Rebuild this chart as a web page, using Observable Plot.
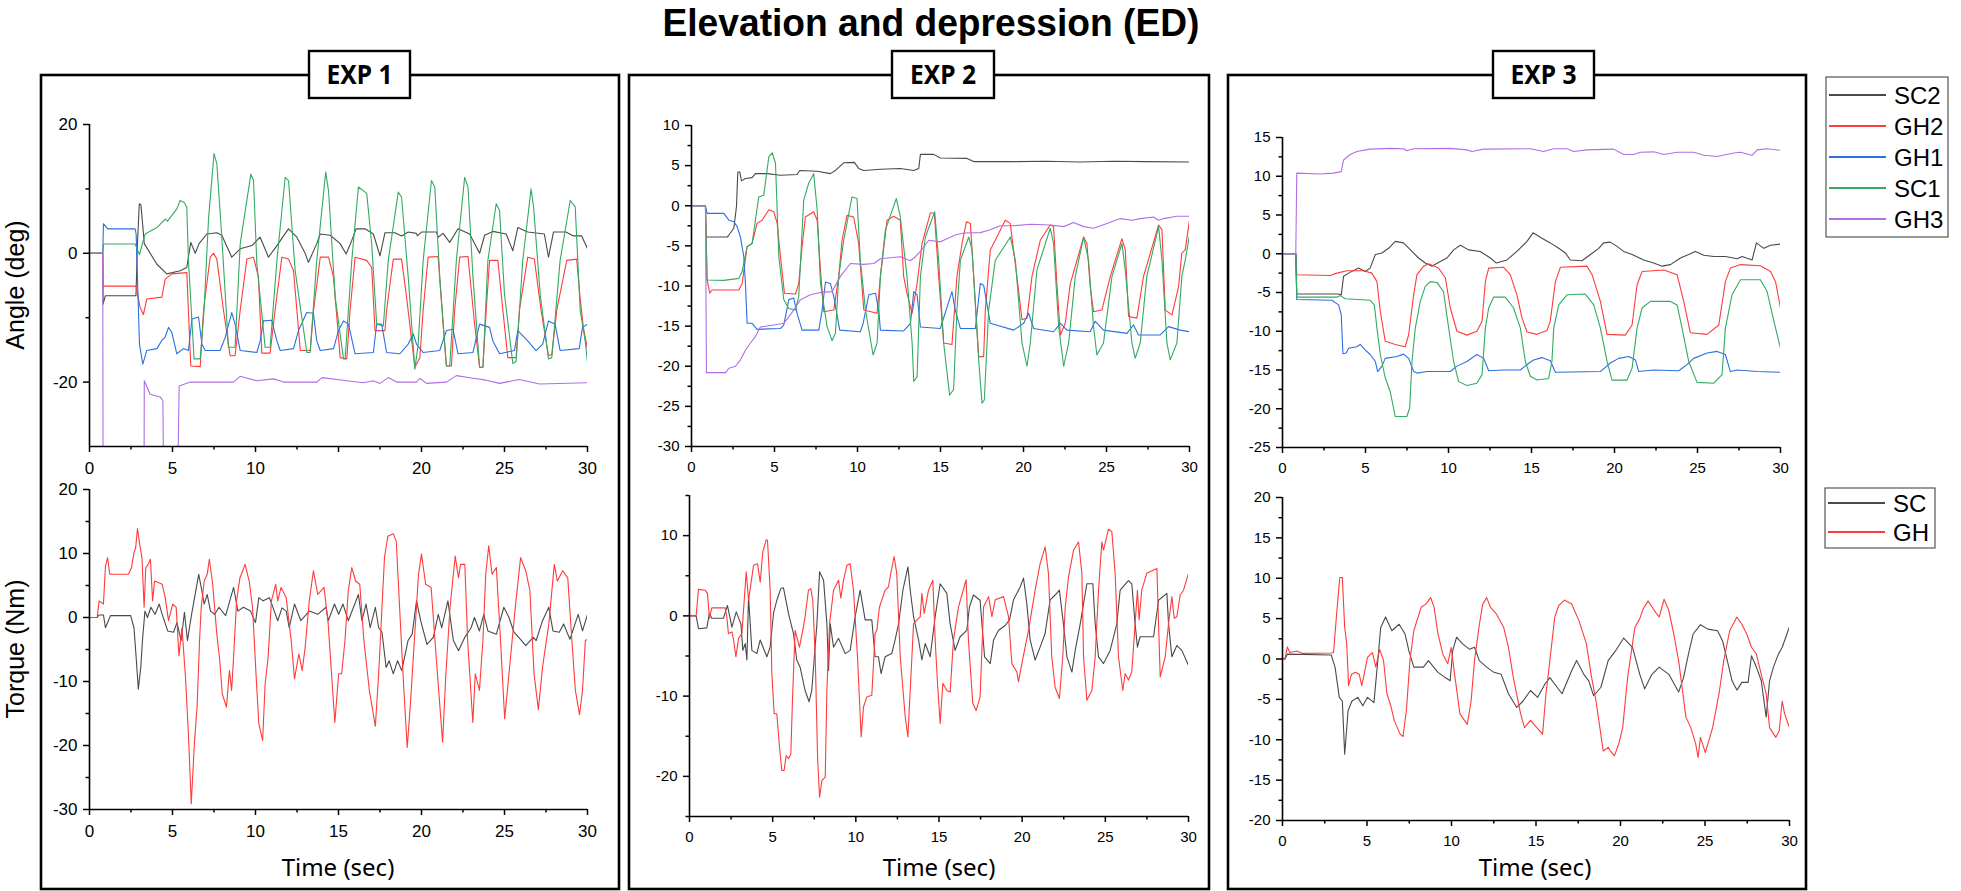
<!DOCTYPE html>
<html>
<head>
<meta charset="utf-8">
<script src="https://cdn.jsdelivr.net/npm/d3@7"></script>
<script src="https://cdn.jsdelivr.net/npm/@observablehq/plot@0.6"></script>
<style>
  body { margin: 0; background: #fff; }
  #page { position: relative; width: 1961px; height: 891px; overflow: hidden; background: #fff; }
  #page svg { position: absolute; }
</style>
</head>
<body>
<div id="page"></div>
<script>
// ---- series names / colours ----
const angleNames = ["SC2", "GH2", "GH1", "SC1", "GH3"];
const angleColors = ["#4a4a4a", "#ff3b3b", "#2c6fe0", "#34aa62", "#b06ee6"];
const torqueNames = ["SC", "GH"];
const torqueColors = ["#4a4a4a", "#ff3b3b"];
const expTitles = ["EXP 1", "EXP 2", "EXP 3"];

// ---- EXP 1 angles [time (s), angle (deg)] ----
const exp1_SC2 = [[0,0],[0.8,0],[0.82,-7.9],[0.95,-6.6],[2.8,-6.6],[2.88,1],[3.0,7.7],[3.1,7.5],[3.3,1.5],[4.06,-1.7],[4.66,-3.2],[5.46,-2.7],[5.86,-2.2],[6.1,1.7],[6.37,0],[6.6,1.5],[7.07,3.0],[7.67,3.2],[7.97,2.8],[8.57,-0.6],[9.08,0.7],[9.78,1.2],[10.28,2.5],[10.78,-0.6],[11.29,1.2],[11.69,2.7],[11.99,3.8],[12.49,2.5],[12.99,0],[13.19,-1.4],[13.69,1.5],[13.9,3.0],[14.5,2.8],[15.1,1.5],[15.46,-0.1],[15.8,2.0],[16.06,3.8],[16.6,3.8],[17.1,3.0],[17.5,-0.4],[17.8,3.2],[18.4,3.2],[18.8,2.7],[19.2,3.3],[19.7,3.1],[19.75,2.7],[20.0,3.3],[20.9,3.3],[21.0,2.5],[21.3,3.1],[21.7,1.7],[22.2,3.8],[22.9,3.0],[23.5,0.0],[23.8,2.8],[24.3,3.4],[25.1,3.0],[25.5,0.4],[25.8,4.0],[26.4,3.3],[27.4,3.0],[27.65,-0.6],[27.95,3.3],[28.7,3.3],[29.15,2.7],[29.65,2.7],[30,0.7]];
const exp1_GH2 = [[0,0],[0.8,0],[0.82,-5.1],[2.8,-5.1],[3.05,-8.4],[3.25,-9.5],[3.45,-7.1],[4.36,-6.8],[4.56,-4.0],[4.96,-3.2],[5.86,-3.0],[6.1,-17.5],[6.67,-17.6],[6.87,-8.8],[7.27,-0.6],[7.47,0],[7.67,-0.9],[8.07,-8.8],[8.47,-15.9],[8.77,-15.9],[9.08,-8.8],[9.48,-0.9],[9.88,-0.6],[10.18,-3.7],[10.38,-15.5],[10.88,-15.5],[11.18,-8.8],[11.59,-0.6],[11.99,-0.9],[12.29,-2.7],[12.7,-15.1],[13.3,-15.1],[13.5,-8.8],[13.9,-0.6],[14.4,-0.6],[14.7,-3.7],[15.1,-16.2],[15.5,-16.4],[15.7,-8.8],[16.0,-0.6],[16.7,-1.1],[17.0,-2.2],[17.2,-12.0],[17.8,-12.0],[17.9,-8.8],[18.3,-0.9],[18.8,-0.9],[19.1,-6.8],[19.6,-17.7],[19.9,-16.2],[20.1,-8.8],[20.4,-0.6],[21.0,-0.5],[21.3,-11.0],[21.5,-17.5],[21.8,-17.5],[22.0,-8.8],[22.3,-0.6],[22.8,-0.5],[23.2,-11.0],[23.5,-17.7],[23.7,-17.7],[23.9,-8.8],[24.1,-1.1],[24.6,-1.1],[24.9,-8.8],[25.2,-16.2],[25.7,-16.2],[25.9,-8.8],[26.4,-0.6],[26.8,-0.9],[27.2,-8.8],[27.65,-15.9],[27.85,-15.7],[28.15,-8.8],[28.75,-1.1],[29.35,-0.9],[29.55,-6.8],[29.75,-11.5],[30,-14.9]];
const exp1_GH1 = [[0,0],[0.8,0],[0.84,4.6],[1.1,3.8],[2.75,3.8],[2.81,3.0],[3.01,-14.1],[3.21,-17.2],[3.45,-15.1],[4.06,-14.8],[4.36,-13.5],[4.56,-13.0],[4.76,-11.5],[4.96,-12.3],[5.26,-15.6],[5.66,-14.8],[5.96,-15.1],[6.17,-10.2],[6.57,-9.9],[6.77,-14.1],[6.97,-15.1],[7.87,-15.1],[8.17,-13.1],[8.57,-9.2],[8.77,-11.0],[9.08,-15.1],[10.08,-15.4],[10.28,-13.6],[10.48,-10.5],[10.98,-10.4],[11.29,-13.6],[11.49,-15.1],[12.29,-14.8],[12.59,-12.0],[13.09,-9.2],[13.49,-9.3],[13.69,-13.6],[13.9,-15.1],[14.7,-14.8],[15.0,-12.0],[15.3,-10.5],[15.6,-11.0],[16.0,-15.6],[17.1,-15.4],[17.3,-11.0],[17.6,-11.0],[17.9,-15.4],[18.7,-15.6],[19.2,-14.1],[19.5,-12.5],[19.7,-14.1],[20.1,-15.4],[21.1,-15.1],[21.5,-12.0],[21.9,-11.8],[22.2,-15.6],[23.1,-15.4],[23.5,-11.0],[24.1,-11.5],[24.3,-13.6],[24.7,-15.6],[25.6,-15.1],[25.8,-12.0],[26.4,-13.6],[26.9,-15.1],[27.3,-14.1],[27.65,-10.5],[28.05,-11.0],[28.35,-15.1],[29.5,-14.8],[29.7,-11.5],[30,-11.0]];
const exp1_SC1 = [[0,0],[0.8,0],[0.84,1.45],[2.75,1.45],[3.01,-0.2],[3.35,3.0],[4.06,4.0],[4.56,5.3],[4.7,5.0],[5.26,6.9],[5.46,8.2],[5.7,7.9],[5.86,7.2],[5.96,-1.1],[6.3,-16.4],[6.67,-16.4],[6.9,-8.8],[7.17,5.3],[7.5,15.5],[7.67,13.9],[7.97,2.5],[8.37,-14.6],[8.77,-14.6],[9.08,1.5],[9.72,12.3],[9.88,11.3],[10.08,-1.6],[10.58,-14.6],[10.88,-14.6],[11.29,-1.1],[11.79,11.8],[11.99,11.3],[12.39,-2.7],[13.09,-15.4],[13.29,-15.4],[13.69,-1.1],[14.23,12.6],[14.4,9.7],[14.8,-6.8],[15.3,-16.4],[15.4,-16.4],[15.8,-1.1],[16.2,10.3],[16.7,9.3],[17.0,1.45],[17.3,-11.0],[17.7,-11.3],[18.0,-1.1],[18.6,9.5],[18.8,8.7],[19.2,-3.7],[19.6,-18.0],[19.8,-14.1],[20.1,-1.1],[20.6,11.3],[20.8,10.3],[21.1,-3.7],[21.5,-17.5],[21.7,-17.5],[22.1,-1.1],[22.6,11.8],[22.8,10.3],[23.1,-3.7],[23.5,-17.7],[23.7,-17.7],[24.0,-1.1],[24.5,7.7],[24.7,6.7],[25.0,-6.4],[25.5,-17.1],[25.7,-16.8],[26.1,-1.1],[26.6,10.0],[26.75,7.2],[27.15,-6.4],[27.65,-16.4],[27.85,-16.2],[28.35,-1.1],[28.96,8.2],[29.26,7.2],[29.56,-8.9],[29.86,-13.6],[30,-17.0]];
const exp1_GH3 = [[0,0],[0.8,0],[0.82,-45],[3.28,-45],[3.3,-19.8],[3.65,-21.9],[4.26,-22.3],[4.42,-22.9],[4.5,-45],[5.26,-45],[5.4,-20.6],[6.07,-20.0],[8.67,-20.0],[9.08,-19.1],[10.08,-19.8],[11.08,-19.5],[11.69,-20.0],[13.69,-20.0],[14.0,-19.3],[15.5,-19.8],[16.5,-20.1],[17.1,-19.8],[17.5,-20.2],[18.0,-19.3],[18.5,-20.0],[19.7,-20.0],[19.9,-19.4],[20.3,-20.2],[21.5,-20.0],[22.1,-19.0],[23.1,-19.4],[23.9,-19.7],[24.7,-20.2],[25.9,-19.6],[27.1,-20.3],[30,-20.1]];

// ---- EXP 2 angles ----
const exp2_SC2 = [[0,0],[0.84,0],[0.88,-3.9],[2.15,-3.9],[2.25,-3.65],[2.55,-2.8],[2.71,-0.1],[2.79,4.2],[2.91,4.2],[3.01,3.1],[3.25,3.4],[3.65,3.5],[3.85,4.0],[4.56,4.0],[5.36,3.8],[6.36,3.9],[6.52,4.4],[7.57,4.3],[8.37,4.0],[8.67,4.4],[9.17,5.35],[9.81,5.4],[10.07,4.65],[10.38,4.4],[11.38,4.55],[12.58,4.65],[13.39,4.4],[13.69,4.65],[13.79,6.4],[14.59,6.4],[14.99,5.95],[16.6,5.9],[17.0,5.5],[19.4,5.5],[21.4,5.55],[23.4,5.45],[25.4,5.55],[27.4,5.5],[30,5.45]];
const exp2_GH2 = [[0,0],[0.84,0],[0.94,-9.25],[1.1,-10.9],[1.24,-10.5],[2.85,-10.5],[3.05,-9.7],[3.35,-5.1],[3.65,-4.7],[3.95,-2.2],[4.25,-1.8],[4.66,-0.5],[4.96,-0.75],[5.16,-2.2],[5.36,-6.35],[5.6,-10.9],[6.26,-11.0],[6.46,-9.7],[6.66,-5.1],[6.86,-1.4],[7.36,-0.75],[7.57,-1.8],[7.77,-8.0],[7.97,-13.2],[8.57,-13.0],[8.87,-8.8],[9.07,-4.3],[9.37,-1.2],[9.77,-1.4],[10.07,-4.7],[10.38,-13.0],[11.18,-13.4],[11.38,-8.8],[11.78,-1.8],[12.18,-1.3],[12.58,-1.8],[12.78,-8.8],[12.98,-10.9],[13.29,-13.4],[13.59,-9.7],[13.89,-4.7],[14.39,-0.9],[14.63,-0.9],[14.89,-8.8],[15.19,-17.1],[15.69,-17.3],[15.99,-8.8],[16.3,-4.7],[16.56,-2.0],[16.8,-2.2],[17.0,-8.8],[17.3,-18.8],[17.6,-18.8],[17.7,-13.0],[18.0,-5.5],[18.9,-1.8],[19.2,-2.2],[19.6,-8.8],[19.91,-14.2],[20.21,-14.0],[20.51,-8.8],[21.01,-4.3],[21.61,-2.4],[21.81,-2.6],[22.01,-9.7],[22.22,-16.1],[22.52,-14.6],[22.82,-9.7],[23.62,-3.9],[23.82,-4.7],[24.02,-10.1],[24.22,-13.2],[24.72,-13.0],[25.23,-8.8],[25.93,-4.1],[26.13,-5.5],[26.33,-13.8],[26.83,-14.0],[27.23,-8.8],[28.14,-2.4],[28.34,-3.0],[28.54,-13.0],[28.94,-13.6],[29.34,-10.1],[29.54,-5.9],[29.74,-5.5],[30,-1.8]];
const exp2_GH1 = [[0,0],[0.84,0],[0.94,-0.95],[1.95,-0.95],[2.25,-1.8],[2.55,-2.0],[2.75,-2.6],[2.95,-3.9],[3.15,-6.35],[3.25,-9.7],[3.35,-14.65],[3.65,-14.65],[3.95,-15.4],[5.36,-15.3],[5.56,-14.85],[5.86,-11.7],[6.16,-11.5],[6.36,-13.4],[6.66,-15.5],[7.67,-15.5],[7.87,-13.0],[8.07,-9.5],[8.37,-9.7],[8.57,-11.3],[8.93,-15.5],[10.17,-15.7],[10.34,-14.65],[10.68,-11.1],[11.08,-10.9],[11.28,-13.0],[11.38,-15.5],[12.78,-15.6],[13.19,-14.65],[13.39,-10.7],[13.59,-11.1],[13.79,-15.1],[14.99,-15.3],[15.69,-10.7],[15.89,-13.0],[16.2,-15.3],[17.1,-15.3],[17.4,-9.7],[17.6,-9.9],[18.0,-14.65],[19.41,-15.5],[20.01,-14.65],[20.31,-13.4],[20.61,-15.3],[21.81,-15.7],[22.22,-14.65],[22.62,-15.5],[24.02,-15.7],[24.32,-14.4],[24.82,-15.5],[26.23,-15.9],[26.63,-14.85],[26.93,-16.1],[28.24,-16.1],[28.74,-15.06],[29.44,-15.5],[30,-15.7]];
const exp2_SC1 = [[0,0],[0.84,0],[0.94,-9.25],[1.95,-9.3],[2.85,-9.05],[3.05,-8.2],[3.35,-5.1],[3.65,-4.7],[4.05,1.1],[4.35,1.3],[4.66,6.1],[4.86,6.6],[5.06,5.3],[5.26,-6.35],[5.56,-11.7],[5.86,-12.8],[6.26,-13.0],[6.46,-11.3],[6.76,0.7],[7.06,2.8],[7.36,4.0],[7.57,-0.5],[7.77,-9.7],[8.17,-15.1],[8.47,-16.8],[8.67,-15.9],[8.87,-8.8],[9.17,-4.3],[9.67,1.1],[9.97,0.9],[10.17,-6.8],[10.48,-13.0],[10.94,-18.6],[11.18,-17.1],[11.38,-8.8],[11.68,-3.0],[12.34,0.9],[12.58,-1.4],[12.98,-8.8],[13.29,-17.1],[13.39,-21.9],[13.59,-21.3],[13.79,-8.8],[14.09,-3.9],[14.65,-0.75],[14.89,-6.8],[15.19,-17.1],[15.55,-23.6],[15.79,-22.9],[15.99,-13.0],[16.2,-6.8],[16.7,-3.9],[16.9,-5.5],[17.3,-19.2],[17.5,-24.6],[17.64,-24.2],[17.9,-13.0],[18.3,-6.8],[19.21,-3.9],[19.51,-6.8],[19.91,-17.1],[20.21,-20.0],[20.41,-17.1],[20.81,-8.0],[21.61,-2.8],[21.81,-4.7],[22.12,-15.1],[22.42,-20.0],[22.72,-17.1],[23.12,-8.8],[23.62,-3.9],[23.92,-6.8],[24.22,-15.1],[24.42,-18.6],[24.82,-17.1],[25.33,-8.8],[25.93,-4.7],[26.13,-8.0],[26.53,-17.1],[26.73,-19.0],[27.03,-17.1],[27.43,-8.8],[28.14,-2.6],[28.34,-6.8],[28.64,-17.1],[28.84,-19.2],[29.24,-17.1],[29.54,-8.8],[29.74,-6.8],[30,-3.7]];
const exp2_GH3 = [[0,0],[0.84,0],[0.9,-20.8],[2.05,-20.8],[2.25,-20.25],[2.65,-20.0],[2.95,-19.2],[3.25,-18.0],[3.55,-17.1],[3.85,-16.3],[4.15,-15.1],[4.96,-14.85],[5.56,-14.65],[6.16,-13.0],[6.56,-11.7],[7.16,-11.1],[7.77,-10.8],[8.47,-10.7],[8.97,-8.8],[9.57,-7.2],[10.38,-7.3],[10.98,-7.2],[11.38,-6.6],[12.58,-6.35],[13.19,-6.85],[13.49,-6.35],[13.79,-5.7],[14.29,-4.3],[14.99,-4.5],[15.39,-4.1],[15.89,-3.65],[16.4,-3.4],[17.4,-3.35],[18.0,-3.0],[18.6,-2.5],[19.41,-2.5],[20.41,-2.3],[21.61,-2.4],[22.42,-2.6],[23.02,-2.1],[23.62,-2.6],[24.22,-2.8],[25.03,-2.2],[25.83,-1.6],[26.53,-1.8],[27.03,-1.6],[27.83,-1.4],[28.14,-1.8],[28.44,-1.6],[29.24,-1.3],[30,-1.3]];

// ---- EXP 3 angles ----
const exp3_SC2 = [[0,0],[0.8,0],[0.86,-5.2],[3.38,-5.2],[3.54,-5.3],[3.68,-2.9],[3.98,-2.5],[4.58,-1.85],[4.98,-2.3],[5.28,-1.85],[5.59,-0.1],[5.99,0.1],[6.39,0.7],[6.79,1.6],[7.29,1.4],[7.8,0.3],[8.2,-0.55],[8.6,-1.2],[9.0,-1.6],[9.5,-1.0],[9.91,-0.55],[10.31,0.5],[10.71,1.1],[11.21,0.5],[11.91,0.3],[12.52,-0.55],[12.88,-1.2],[13.52,-0.8],[14.12,0.3],[14.73,1.6],[15.09,2.7],[15.63,2.0],[16.13,1.4],[16.64,0.7],[17.04,0.1],[17.34,-0.8],[18.04,-0.9],[18.55,-0.1],[19.05,0.7],[19.35,1.4],[19.75,1.5],[20.15,0.95],[20.55,0.3],[21.06,-0.1],[21.76,-0.8],[22.36,-1.2],[22.87,-1.6],[23.37,-1.4],[23.97,-0.55],[24.47,-0.1],[24.87,0.3],[25.38,-0.2],[25.98,-0.35],[26.68,-0.35],[27.39,-0.65],[27.69,-0.35],[28.29,-0.8],[28.55,1.4],[28.99,0.7],[29.4,1.1],[30,1.25]];
const exp3_GH2 = [[0,0],[0.8,0],[0.86,-2.7],[2.87,-2.8],[3.28,-2.5],[3.88,-2.2],[4.88,-2.2],[5.38,-2.5],[5.69,-3.6],[5.89,-7.4],[6.19,-11.3],[6.79,-11.7],[7.39,-12.0],[7.6,-10.45],[7.9,-5.3],[8.1,-2.7],[8.5,-1.6],[8.8,-1.3],[9.4,-1.85],[9.81,-3.1],[10.11,-7.0],[10.51,-10.0],[11.11,-10.5],[11.71,-10.0],[12.02,-8.7],[12.22,-3.6],[12.42,-1.85],[13.32,-1.75],[13.72,-2.7],[14.12,-5.3],[14.43,-8.3],[14.73,-10.1],[15.33,-10.4],[15.93,-9.9],[16.13,-8.7],[16.44,-3.6],[16.74,-1.75],[18.34,-1.6],[18.65,-2.7],[19.15,-6.15],[19.55,-10.4],[20.65,-10.5],[21.06,-9.2],[21.36,-4.0],[21.66,-2.3],[22.97,-2.1],[23.77,-2.7],[24.17,-6.15],[24.57,-10.2],[25.58,-10.4],[26.28,-9.2],[26.68,-3.6],[26.98,-1.85],[27.59,-1.4],[28.79,-1.55],[29.4,-2.3],[29.7,-3.6],[30,-7.0]];
const exp3_GH1 = [[0,0],[0.8,0],[0.86,-5.9],[2.97,-6.0],[3.38,-6.6],[3.54,-7.9],[3.64,-12.9],[3.84,-12.8],[3.98,-12.2],[4.48,-12.0],[4.68,-11.7],[4.98,-12.4],[5.28,-13.0],[5.59,-13.9],[5.73,-15.2],[5.99,-14.5],[6.19,-13.5],[6.89,-13.25],[7.29,-12.95],[7.6,-13.5],[7.9,-15.2],[8.1,-15.4],[8.7,-15.2],[10.11,-15.2],[10.51,-14.5],[11.11,-13.9],[11.71,-13.0],[12.12,-13.5],[12.42,-15.1],[13.32,-15.0],[14.33,-15.0],[14.73,-14.3],[15.13,-13.7],[15.63,-13.4],[16.13,-13.8],[16.44,-15.3],[19.15,-15.2],[19.75,-14.1],[20.25,-13.5],[20.86,-13.25],[21.26,-13.7],[21.46,-15.2],[22.36,-15.0],[23.87,-15.1],[24.37,-14.3],[24.77,-13.5],[25.58,-12.8],[26.18,-12.6],[26.68,-13.0],[26.98,-15.2],[27.39,-15.0],[28.59,-15.2],[30,-15.3]];
const exp3_SC1 = [[0,0],[0.8,0],[0.86,-5.6],[3.28,-5.6],[3.48,-5.4],[3.78,-5.8],[5.28,-6.0],[5.53,-6.6],[5.69,-9.6],[5.89,-13.0],[6.19,-16.0],[6.49,-17.8],[6.79,-21.0],[7.49,-21.0],[7.66,-19.9],[7.8,-13.9],[8.0,-9.6],[8.3,-6.15],[8.6,-4.2],[8.9,-3.6],[9.3,-3.7],[9.7,-4.9],[10.01,-9.6],[10.31,-13.9],[10.61,-16.5],[11.11,-17.0],[11.71,-16.7],[12.02,-15.6],[12.22,-9.6],[12.42,-7.0],[12.72,-5.6],[13.42,-5.6],[13.92,-7.0],[14.33,-9.6],[14.63,-13.9],[14.93,-15.8],[15.33,-16.3],[16.03,-16.1],[16.23,-13.9],[16.34,-9.6],[16.64,-6.6],[17.14,-5.3],[18.24,-5.2],[18.75,-6.6],[19.15,-9.6],[19.55,-13.9],[19.85,-16.3],[20.76,-16.3],[21.06,-14.75],[21.36,-9.6],[21.66,-7.0],[22.16,-6.15],[23.37,-6.15],[23.77,-6.6],[24.07,-9.6],[24.47,-13.9],[24.97,-16.6],[25.98,-16.7],[26.48,-15.6],[26.68,-9.6],[27.08,-5.3],[27.59,-3.35],[28.79,-3.35],[29.19,-4.86],[29.6,-8.7],[30,-12.2]];
const exp3_GH3 = [[0,0],[0.8,0],[0.86,10.4],[2.27,10.3],[3.07,10.4],[3.54,10.6],[3.68,12.1],[4.08,12.8],[4.48,13.2],[5.28,13.5],[6.49,13.6],[7.29,13.55],[7.49,13.3],[7.9,13.55],[10.11,13.6],[11.11,13.4],[11.41,13.2],[12.12,13.5],[14.93,13.55],[15.73,13.2],[16.34,13.55],[17.14,13.55],[17.54,13.2],[18.34,13.4],[19.95,13.5],[20.55,12.8],[21.16,12.8],[21.56,13.1],[22.36,13.15],[22.97,12.8],[23.77,13.1],[24.77,13.1],[25.38,12.7],[26.18,12.55],[27.19,13.0],[27.59,13.1],[28.29,12.7],[28.59,13.4],[29.19,13.55],[30,13.35]];

// ---- torques [time (s), torque (Nm)] ----
const exp1_tqSC = [[0,0],[0.46,0],[0.58,0.4],[0.84,0.4],[0.96,-1.6],[1.27,0.3],[2.48,0.3],[2.68,-1.6],[2.81,-6.2],[2.94,-11.2],[3.09,-7.8],[3.19,-3.6],[3.34,1.0],[3.49,0],[3.7,1.6],[3.95,0.5],[4.2,2.1],[4.38,0.5],[4.71,-2.1],[5.06,-2.3],[5.27,-0.8],[5.52,-3.6],[5.72,0.8],[5.9,-3.6],[6.15,0.5],[6.33,3.1],[6.58,6.75],[6.73,4.7],[6.91,2.1],[7.09,3.6],[7.29,1.0],[7.54,0.5],[7.8,1.6],[8.2,0.3],[8.68,4.7],[8.94,1.0],[9.27,1.6],[9.7,1.0],[10.0,-0.8],[10.2,3.1],[10.46,2.6],[10.84,3.1],[11.34,-0.5],[11.6,1.5],[11.85,1.0],[12.03,-1.6],[12.35,2.1],[12.73,-0.5],[13.24,1.0],[13.75,0.5],[14.25,1.6],[14.38,-0.5],[14.76,2.1],[15.01,0.5],[15.27,2.1],[15.59,-0.5],[16.2,3.6],[16.41,-0.5],[16.66,2.1],[16.91,-1.6],[17.22,1.6],[17.42,-1.6],[17.62,-2.3],[17.87,-7.8],[18.05,-6.75],[18.3,-8.8],[18.56,-6.75],[18.81,-8.3],[19.19,-3.6],[19.44,-2.6],[19.7,2.6],[19.95,-0.5],[20.33,-4.2],[20.71,-3.1],[21.01,0.5],[21.22,-1.6],[21.59,2.6],[21.92,-3.6],[22.23,-5.2],[22.61,-3.1],[22.99,-1.6],[23.19,0],[23.49,-2.1],[23.75,0.5],[24.0,-2.1],[24.51,-2.6],[24.96,1.6],[25.27,0],[25.57,-2.3],[26.03,-3.6],[26.28,-4.4],[26.73,-3.1],[26.91,-3.6],[27.29,-0.5],[27.67,1.6],[27.92,-2.1],[28.3,-2.3],[28.56,-1.0],[28.94,-3.4],[29.44,0.5],[29.7,-2.1],[30,0.5]];
const exp1_tqGH = [[0,0],[0.46,0],[0.58,2.6],[0.84,2.1],[0.96,8.0],[1.09,9.35],[1.22,6.75],[2.35,6.75],[2.53,7.8],[2.68,10.1],[2.78,10.9],[2.89,13.9],[3.04,11.2],[3.16,9.35],[3.29,1.6],[3.39,7.8],[3.54,8.3],[3.67,9.1],[3.8,2.6],[3.92,5.7],[4.38,5.2],[4.56,3.1],[4.76,-0.5],[5.01,2.1],[5.22,1.6],[5.39,-6.0],[5.57,-1.6],[5.77,-8.8],[5.95,-17.7],[6.13,-29.1],[6.33,-19.2],[6.48,-14.0],[6.63,-3.6],[6.73,1.6],[6.91,5.7],[7.09,6.75],[7.22,9.1],[7.42,5.2],[7.67,-2.6],[7.85,-6.75],[8.0,-11.95],[8.25,-14.0],[8.43,-8.3],[8.56,-11.4],[8.68,-6.2],[8.86,2.6],[9.06,6.2],[9.19,7.0],[9.37,8.3],[9.62,5.7],[9.82,1.6],[10.03,-8.8],[10.2,-16.6],[10.43,-19.2],[10.58,-10.4],[10.76,-6.2],[10.96,2.6],[11.22,5.2],[11.34,2.6],[11.54,4.7],[11.85,3.1],[12.15,-3.6],[12.35,-9.6],[12.61,-5.7],[12.81,-8.3],[12.99,-4.7],[13.24,2.6],[13.49,7.3],[13.75,3.6],[14.13,4.7],[14.38,-1.0],[14.58,-8.8],[14.78,-16.4],[15.01,-8.8],[15.19,-8.8],[15.39,-3.6],[15.59,4.2],[15.8,7.8],[16.03,5.7],[16.28,5.2],[16.53,-3.6],[16.86,-11.4],[17.22,-17.0],[17.42,-8.8],[17.62,1.6],[17.77,9.35],[17.97,12.7],[18.3,13.1],[18.48,11.9],[18.68,1.6],[18.94,-11.4],[19.14,-20.3],[19.32,-14.0],[19.57,-3.6],[19.82,6.75],[20.0,9.9],[20.25,5.2],[20.58,4.7],[20.96,-8.8],[21.27,-19.5],[21.47,-8.8],[21.72,1.6],[22.03,9.6],[22.23,6.2],[22.35,8.3],[22.61,8.3],[22.78,-3.6],[23.09,-16.4],[23.24,-8.8],[23.49,-11.4],[23.7,-3.6],[23.87,6.75],[24.05,11.2],[24.25,6.75],[24.51,7.8],[24.76,-3.6],[25.01,-15.8],[25.27,-8.8],[25.65,1.6],[25.97,9.35],[26.28,7.3],[26.53,4.2],[26.78,-8.8],[27.04,-14.4],[27.29,-7.8],[27.67,-1.0],[28.0,8.3],[28.18,5.7],[28.51,7.3],[28.81,6.2],[29.06,-3.6],[29.27,-11.4],[29.52,-15.2],[29.7,-11.4],[29.87,-3.6],[30,-3.4]];
const exp2_tqSC = [[0,0],[0.4,0],[0.54,-1.6],[1.04,-1.5],[1.2,0.3],[1.34,-0.3],[2.04,-0.3],[2.28,1.3],[2.55,-1.4],[2.81,0.5],[3.09,-1.0],[3.21,-4.3],[3.35,-3.45],[3.45,-5.5],[3.55,2.4],[3.75,-4.3],[4.05,-4.7],[4.25,-3.0],[4.65,-5.1],[4.85,-3.9],[5.05,0.3],[5.25,1.95],[5.49,3.4],[5.65,3.5],[5.95,0.3],[6.25,-2.2],[6.45,-5.5],[6.65,-6.4],[6.95,-9.3],[7.19,-10.7],[7.35,-9.3],[7.66,-1.0],[7.82,5.5],[8.06,4.45],[8.26,-1.0],[8.36,-6.8],[8.46,-1.0],[8.66,-3.9],[8.96,-2.8],[9.36,-4.7],[9.66,-4.3],[9.96,-0.1],[10.26,3.2],[10.56,-0.5],[10.96,-0.5],[11.16,-5.1],[11.36,-5.1],[11.52,-7.2],[11.76,-5.1],[12.16,-4.7],[12.36,-3.0],[12.57,-1.0],[12.83,3.2],[13.13,6.1],[13.27,3.2],[13.47,-0.1],[13.77,-3.0],[13.97,-5.5],[14.17,-3.45],[14.47,-5.1],[14.77,-0.1],[15.07,4.0],[15.47,2.8],[15.67,-1.0],[15.97,-4.3],[16.27,-2.6],[16.67,-1.8],[16.83,1.1],[17.07,2.6],[17.47,1.95],[17.58,-1.0],[17.74,-5.1],[18.08,-5.95],[18.28,-3.0],[18.58,-1.8],[18.98,-1.2],[19.24,-0.5],[19.48,2.0],[19.88,3.6],[20.08,4.7],[20.28,1.5],[20.48,-3.0],[20.78,-5.5],[21.08,-3.9],[21.38,-2.2],[21.68,2.0],[21.98,2.6],[22.24,3.2],[22.48,-1.0],[22.69,-5.1],[22.99,-7.0],[23.19,-4.3],[23.49,-1.0],[23.89,4.0],[24.25,4.0],[24.39,-1.0],[24.59,-5.1],[24.89,-5.95],[25.29,-4.3],[25.69,-1.0],[25.89,3.2],[26.39,4.4],[26.59,4.0],[26.79,-1.0],[26.93,-3.9],[27.09,-2.6],[27.9,-2.6],[28.2,1.95],[28.7,2.8],[28.8,-1.0],[29.0,-5.1],[29.3,-3.7],[29.6,-4.3],[30,-6.2]];
const exp2_tqGH = [[0,0],[0.4,0],[0.54,3.3],[0.94,3.2],[1.08,2.8],[1.2,-0.3],[1.34,1.0],[2.14,1.0],[2.24,-0.1],[2.34,-2.2],[2.55,-2.0],[2.65,-3.0],[2.79,-5.1],[2.95,-2.8],[3.15,-2.2],[3.41,5.5],[3.55,1.95],[3.85,6.3],[4.09,6.5],[4.25,4.2],[4.41,8.0],[4.61,9.5],[4.69,9.4],[4.85,3.2],[4.95,-7.2],[5.09,-12.2],[5.25,-12.2],[5.41,-16.3],[5.55,-19.25],[5.69,-19.25],[5.81,-17.4],[5.95,-17.8],[6.09,-17.2],[6.21,-9.3],[6.35,-1.8],[6.61,-3.9],[6.81,-1.8],[6.95,-0.1],[7.15,3.2],[7.29,3.4],[7.41,2.0],[7.56,-5.1],[7.7,-17.6],[7.82,-22.6],[7.96,-20.5],[8.16,-20.1],[8.26,-9.3],[8.42,-1.0],[8.66,3.2],[8.96,4.45],[9.1,2.2],[9.26,4.45],[9.46,6.3],[9.66,6.5],[9.86,3.2],[10.1,-5.1],[10.32,-15.1],[10.46,-11.35],[10.66,-10.1],[10.96,-9.9],[11.16,-2.2],[11.26,-1.8],[11.42,1.1],[11.76,3.2],[11.96,3.6],[12.1,5.3],[12.3,7.4],[12.46,5.3],[12.67,-5.1],[12.97,-12.6],[13.13,-15.1],[13.27,-9.3],[13.47,-1.0],[13.87,-0.1],[13.97,2.8],[14.11,0.3],[14.37,3.2],[14.63,4.45],[14.77,-3.0],[14.91,-8.4],[15.07,-13.4],[15.23,-8.4],[15.47,-9.3],[15.67,-9.5],[15.87,-3.0],[16.17,1.1],[16.63,4.5],[16.77,-3.0],[17.03,-10.9],[17.23,-11.8],[17.47,-10.1],[17.68,1.1],[17.98,2.4],[18.18,-0.1],[18.38,2.0],[18.88,2.4],[19.18,-0.1],[19.38,-5.95],[19.68,-7.0],[19.78,-8.2],[19.98,-5.95],[20.38,-1.8],[20.78,3.2],[21.08,6.5],[21.38,8.6],[21.58,5.3],[21.78,-5.1],[21.98,-8.9],[22.24,-10.3],[22.44,-5.1],[22.59,1.1],[22.79,4.9],[23.09,8.2],[23.39,9.2],[23.59,5.3],[23.69,-5.1],[23.89,-10.5],[24.19,-9.3],[24.39,-5.1],[24.59,3.2],[24.79,9.2],[24.89,8.2],[25.19,10.8],[25.39,10.5],[25.59,5.3],[25.79,-5.1],[26.05,-9.3],[26.19,-7.2],[26.39,-8.0],[26.59,-7.0],[26.79,-1.0],[26.93,3.2],[27.03,-0.5],[27.19,3.2],[27.49,5.3],[28.1,5.9],[28.2,-1.0],[28.3,-7.6],[28.6,-5.1],[28.8,-1.0],[29.0,2.4],[29.14,-0.3],[29.3,-0.1],[29.5,2.6],[29.7,3.2],[30,5.3]];
const exp3_tqSC = [[0,0],[0.14,0],[0.29,0.6],[2.88,0.5],[3.11,-1.0],[3.36,-4.75],[3.54,-5.2],[3.68,-11.8],[3.88,-6.4],[4.11,-5.2],[4.46,-4.75],[4.75,-5.8],[5.03,-4.75],[5.41,-5.4],[5.64,-0.2],[5.81,3.9],[6.1,5.2],[6.47,3.5],[6.9,4.3],[7.25,3.1],[7.48,1.0],[7.77,-1.0],[8.34,-1.0],[8.63,-0.2],[9.2,-1.65],[9.63,-2.3],[9.92,-2.7],[10.07,1.0],[10.3,2.7],[10.64,1.9],[11.07,1.2],[11.36,1.45],[11.65,-0.2],[12.08,-1.0],[12.51,-1.65],[12.94,-1.9],[13.37,-4.3],[13.86,-6.0],[14.24,-5.2],[14.67,-3.9],[15.1,-4.75],[15.53,-3.1],[15.82,-2.3],[16.25,-3.5],[16.54,-4.3],[17.11,-1.45],[17.4,-0.2],[17.83,-1.9],[18.12,-2.7],[18.41,-4.55],[18.84,-3.5],[19.27,-0.2],[19.7,1.0],[20.19,2.6],[20.71,1.45],[21.14,-1.9],[21.43,-3.7],[21.86,-1.9],[22.29,-1.0],[22.86,-1.9],[23.44,-4.1],[23.73,-2.3],[24.02,0.6],[24.3,3.1],[24.73,4.25],[25.17,3.7],[25.74,3.5],[26.03,2.3],[26.32,-0.2],[26.6,-2.7],[26.89,-3.85],[27.18,-2.9],[27.55,-2.9],[27.75,0.4],[28.04,-1.0],[28.33,-2.7],[28.62,-7.2],[28.82,-2.7],[29.05,-1.0],[29.34,0.6],[29.57,1.45],[30,4.0]];
const exp3_tqGH = [[0,0],[0.14,0],[0.29,1.5],[0.43,0.8],[0.86,1.0],[1.15,0.7],[2.88,0.75],[3.02,0.8],[3.22,6.0],[3.39,10.1],[3.54,10.1],[3.68,3.9],[3.8,1.9],[3.91,-3.3],[4.08,-1.9],[4.31,-1.65],[4.54,-1.9],[4.69,-3.3],[4.83,-1.9],[5.03,0.2],[5.32,0.8],[5.52,-1.0],[5.75,1.2],[5.98,-0.2],[6.18,-4.3],[6.41,-5.8],[6.61,-7.6],[6.96,-9.3],[7.13,-9.6],[7.33,-6.4],[7.54,-0.2],[7.77,3.5],[8.2,6.4],[8.48,6.8],[8.77,7.6],[8.97,6.4],[9.2,3.1],[9.49,0.6],[9.78,-0.6],[9.98,1.45],[10.21,-2.3],[10.5,-6.8],[10.93,-8.1],[11.16,-5.2],[11.36,-0.2],[11.65,4.3],[11.85,6.8],[12.08,7.6],[12.31,6.4],[12.65,5.6],[13.09,3.9],[13.37,1.45],[13.66,-2.3],[14.09,-6.8],[14.32,-8.5],[14.67,-7.6],[15.39,-9.3],[15.59,-4.3],[15.82,-0.2],[16.11,5.2],[16.34,6.6],[16.68,7.3],[17.11,6.8],[17.54,4.75],[17.98,1.9],[18.26,-1.9],[18.55,-5.2],[18.98,-11.4],[19.27,-10.95],[19.41,-11.4],[19.64,-12.0],[19.9,-10.5],[20.13,-8.5],[20.42,-2.3],[20.85,3.9],[21.14,5.0],[21.34,6.2],[21.63,7.2],[22.0,6.0],[22.29,5.2],[22.58,7.4],[22.86,6.0],[23.15,3.1],[23.44,-0.2],[23.87,-7.2],[24.16,-8.5],[24.45,-10.5],[24.59,-12.2],[24.73,-9.7],[25.02,-11.6],[25.45,-8.5],[25.83,-4.3],[26.11,-0.2],[26.46,3.5],[26.89,5.2],[27.18,4.3],[27.47,3.1],[27.75,1.45],[28.04,0.6],[28.33,-1.9],[28.62,-4.3],[28.82,-8.5],[29.19,-9.7],[29.39,-8.9],[29.57,-5.2],[29.71,-6.8],[30,-8.5]];

// ---- tick values ----
const xMajor = [0, 5, 10, 15, 20, 25, 30];
const xMinor = [2.5, 7.5, 12.5, 17.5, 22.5, 27.5];

const page = document.getElementById("page");
const FONT = "'Liberation Sans', Arial, sans-serif";

function chart({plotLeft, plotTop, plotW, plotH, yDomain, yMajor, yLabeled, yMinor, xHide = [], fontSize, lines}) {
  const mL = 50, mR = 14, mT = 12, mB = 40;
  const svg = Plot.plot({
    width: plotW + mL + mR,
    height: plotH + mT + mB,
    marginLeft: mL, marginRight: mR, marginTop: mT, marginBottom: mB,
    x: {domain: [0, 30], label: null},
    y: {domain: yDomain, label: null},
    style: {background: "transparent", color: "#000", fontFamily: FONT, fontSize: fontSize + "px", overflow: "visible"},
    marks: [
      ...lines.map(([data, color]) =>
        Plot.line(data, {x: d => d[0], y: d => d[1], stroke: color, strokeWidth: 1.1, clip: true})),
      Plot.ruleX([0], {strokeWidth: 1.6}),
      Plot.ruleY([yDomain[0]], {strokeWidth: 1.6}),
      Plot.axisX({ticks: xMajor, tickSize: 6, tickPadding: 9, strokeWidth: 1.5, label: null,
        tickFormat: d => xHide.includes(d) ? "" : String(d)}),
      Plot.axisX({ticks: xMinor, tickSize: 3.5, strokeWidth: 1.5, label: null, tickFormat: () => ""}),
      Plot.axisY({ticks: yMajor, tickSize: 6, tickPadding: 6, strokeWidth: 1.5, label: null,
        tickFormat: d => yLabeled.includes(d) ? String(d) : ""}),
      Plot.axisY({ticks: yMinor, tickSize: 3.5, strokeWidth: 1.5, label: null, tickFormat: () => ""})
    ]
  });
  svg.style.left = (plotLeft - mL) + "px";
  svg.style.top = (plotTop - mT) + "px";
  page.appendChild(svg);
}

const range = (a, b, s) => d3.range(a, b + s / 2, s);

// ---- decorations (frames, boxes, titles, legends) ----
const deco = d3.create("svg").attr("width", 1961).attr("height", 891).style("left", "0px").style("top", "0px");
deco.append("text").attr("x", 931).attr("y", 36).attr("text-anchor", "middle")
  .attr("font-family", FONT).attr("font-weight", 700).attr("font-size", 39)
  .attr("textLength", 537).attr("lengthAdjust", "spacingAndGlyphs").text("Elevation and depression (ED)");

const panels = [[41, 619], [629, 1209], [1228, 1806]];
const boxes = [[309, 410], [892, 994], [1493, 1594]];
panels.forEach(([x0, x1], i) => {
  deco.append("rect").attr("x", x0).attr("y", 75).attr("width", x1 - x0).attr("height", 814)
    .attr("fill", "none").attr("stroke", "#000").attr("stroke-width", 2.6);
  const [b0, b1] = boxes[i];
  deco.append("rect").attr("x", b0).attr("y", 51).attr("width", b1 - b0).attr("height", 47)
    .attr("fill", "#fff").attr("stroke", "#000").attr("stroke-width", 2.4);
  deco.append("text").attr("x", (b0 + b1) / 2).attr("y", 84).attr("text-anchor", "middle")
    .attr("font-family", "'Noto Sans', sans-serif").attr("font-weight", 700).attr("font-size", 27)
    .attr("textLength", 66).attr("lengthAdjust", "spacingAndGlyphs").text(expTitles[i]);
});

[[285, "Angle (deg)"], [649, "Torque (Nm)"]].forEach(([cy, t]) => {
  deco.append("text").attr("transform", `translate(24,${cy}) rotate(-90)`).attr("text-anchor", "middle")
    .attr("font-family", FONT).attr("font-size", 25).text(t);
});
[338, 939, 1535].forEach(cx => {
  deco.append("text").attr("x", cx).attr("y", 876).attr("text-anchor", "middle")
    .attr("font-family", "'Noto Sans', 'Open Sans', sans-serif").attr("font-size", 24).text("Time (sec)");
});

function legend(x, y, w, h, rows, names, colors) {
  deco.append("rect").attr("x", x).attr("y", y).attr("width", w).attr("height", h)
    .attr("fill", "#fff").attr("stroke", "#555").attr("stroke-width", 1.2);
  names.forEach((n, i) => {
    const cy = rows[i];
    deco.append("line").attr("x1", x + 3).attr("x2", x + 60).attr("y1", cy).attr("y2", cy)
      .attr("stroke", colors[i]).attr("stroke-width", 2.2);
    deco.append("text").attr("x", x + 68).attr("y", cy + 8.5).attr("font-family", FONT)
      .attr("font-size", 24).text(n);
  });
}
legend(1826, 77, 122, 160, [95, 126, 157, 188, 219], angleNames, angleColors);
legend(1825, 488, 110, 60, [503, 532], torqueNames, torqueColors);

page.appendChild(deco.node());

// ---- the six plots ----
const angleSets = [
  [exp1_SC2, exp1_GH2, exp1_GH1, exp1_SC1, exp1_GH3],
  [exp2_SC2, exp2_GH2, exp2_GH1, exp2_SC1, exp2_GH3],
  [exp3_SC2, exp3_GH2, exp3_GH1, exp3_SC1, exp3_GH3]
];
const torqueSets = [[exp1_tqSC, exp1_tqGH], [exp2_tqSC, exp2_tqGH], [exp3_tqSC, exp3_tqGH]];
const withColors = (sets, colors) => sets.map((d, i) => [d, colors[i]]);

chart({plotLeft: 89, plotTop: 124, plotW: 498, plotH: 322, yDomain: [-30, 20],
  yMajor: [-20, 0, 20], yLabeled: [-20, 0, 20], yMinor: [-10, 10], xHide: [15], fontSize: 17,
  lines: withColors(angleSets[0], angleColors)});
chart({plotLeft: 89, plotTop: 489, plotW: 498, plotH: 320, yDomain: [-30, 20],
  yMajor: range(-30, 20, 10), yLabeled: range(-30, 20, 10), yMinor: range(-25, 15, 10), fontSize: 17,
  lines: withColors(torqueSets[0], torqueColors)});
chart({plotLeft: 691, plotTop: 125, plotW: 498, plotH: 321, yDomain: [-30, 10],
  yMajor: range(-30, 10, 5), yLabeled: range(-30, 10, 5), yMinor: range(-27.5, 7.5, 5), fontSize: 15,
  lines: withColors(angleSets[1], angleColors)});
chart({plotLeft: 689, plotTop: 495, plotW: 499, plotH: 321, yDomain: [-25, 15],
  yMajor: [-20, -10, 0, 10], yLabeled: [-20, -10, 0, 10], yMinor: [-25, -15, -5, 5, 15], fontSize: 15,
  lines: withColors(torqueSets[1], torqueColors)});
chart({plotLeft: 1282, plotTop: 137, plotW: 498, plotH: 310, yDomain: [-25, 15],
  yMajor: range(-25, 15, 5), yLabeled: range(-25, 15, 5), yMinor: range(-22.5, 12.5, 5), fontSize: 15,
  lines: withColors(angleSets[2], angleColors)});
chart({plotLeft: 1282, plotTop: 497, plotW: 507, plotH: 323, yDomain: [-20, 20],
  yMajor: range(-20, 20, 5), yLabeled: range(-20, 20, 5), yMinor: range(-17.5, 17.5, 5), fontSize: 15,
  lines: withColors(torqueSets[2], torqueColors)});
</script>
</body>
</html>
